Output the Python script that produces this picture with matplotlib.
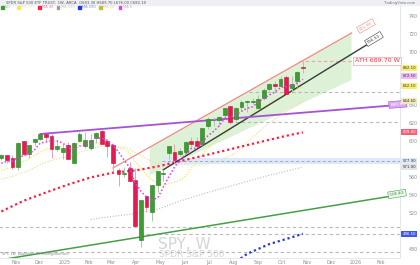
import numpy as np
import matplotlib.pyplot as plt
import matplotlib.dates as mdates
import pandas as pd

plt.rcParams['font.family'] = ['DejaVu Sans']

# weekly SPY candles, week of 2024-10-14 .. week of 2025-10-27
weeks = pd.date_range('2024-10-14', periods=55, freq='7D')
opens = [581.2, 584.1, 581.2, 571.3, 599.8, 586.2, 599.5, 603.0, 607.7, 606.0,
         590.9, 587.9, 596.3, 575.8, 600.7, 594.8, 592.7, 604.0, 610.9, 599.9,
         596.2, 567.6, 563.0, 570.0, 556.6, 489.2, 538.3, 521.1, 551.0, 563.3,
         586.7, 588.1, 586.0, 587.8, 600.1, 600.6, 597.4, 617.4, 623.4, 623.2,
         628.8, 638.9, 625.0, 638.5, 643.3, 643.4, 637.5, 648.6, 657.9, 664.0,
         662.0, 671.9, 659.2, 667.5, 683.3]
highs = [586.1, 585.0, 584.2, 599.0, 600.2, 596.2, 603.4, 608.4, 607.9, 607.8,
         601.3, 596.6, 599.4, 599.4, 610.8, 610.0, 608.3, 610.1, 613.2, 603.0,
         597.3, 569.5, 570.9, 577.0, 570.5, 534.0, 539.3, 551.0, 567.0, 567.8,
         594.5, 596.5, 592.0, 600.0, 605.1, 605.0, 615.0, 626.9, 626.9, 628.6,
         637.6, 639.8, 638.1, 646.2, 646.1, 648.0, 652.2, 659.1, 665.4, 667.3,
         672.7, 673.9, 673.2, 678.0, 689.7]
lows = [578.6, 575.2, 568.4, 567.9, 584.5, 581.0, 595.1, 601.4, 600.5, 580.9,
        589.6, 580.2, 580.0, 575.4, 598.9, 592.6, 590.6, 598.0, 596.5, 582.4,
        565.6, 549.7, 559.6, 555.2, 504.1, 481.8, 520.6, 510.3, 543.0, 556.0,
        580.0, 575.6, 583.0, 586.0, 594.0, 593.4, 595.5, 613.5, 617.5, 617.1,
        627.4, 619.3, 622.3, 634.3, 632.9, 641.9, 636.6, 646.4, 655.6, 655.0,
        661.0, 652.8, 653.6, 661.0, 676.0]
closes = [584.6, 579.0, 571.0, 598.2, 585.8, 595.5, 602.6, 607.8, 604.2, 591.2,
          595.0, 592.0, 580.5, 597.6, 608.0, 601.8, 600.8, 609.7, 597.2, 594.2,
          575.9, 562.8, 564.0, 555.7, 505.3, 533.9, 526.4, 550.6, 566.8, 564.3,
          594.2, 579.1, 589.4, 599.1, 597.0, 594.3, 614.9, 625.3, 623.6, 627.6,
          637.1, 621.7, 637.2, 643.4, 645.3, 645.1, 647.2, 657.4, 663.7, 661.8,
          669.2, 653.0, 664.4, 677.3, 682.1]

# moving averages
ma5 = [575.4, 577.5, 577.4, 582.5, 583.7, 585.9, 590.6, 598.0, 599.2, 600.3,
       600.2, 598.0, 592.6, 591.3, 594.6, 596.0, 597.7, 603.6, 603.5, 600.7,
       595.6, 588.0, 578.8, 570.5, 552.7, 544.3, 537.1, 534.4, 536.6, 548.4,
       560.5, 571.0, 578.8, 585.2, 591.8, 591.8, 598.9, 606.1, 611.0, 617.1,
       625.7, 627.1, 629.4, 633.4, 636.9, 638.5, 643.6, 647.7, 651.7, 655.0,
       659.9, 661.0, 662.4, 665.1, 669.2]
ma10 = [567.4, 569.3, 570.2, 573.7, 577.3, 580.7, 584.1, 587.7, 590.9, 592.0,
        593.1, 594.3, 595.3, 595.3, 597.5, 598.1, 597.9, 598.1, 597.4, 597.7,
        595.8, 592.9, 591.2, 587.0, 576.7, 570.0, 562.6, 556.6, 553.6, 550.6,
        552.4, 554.1, 556.6, 560.9, 570.1, 576.2, 585.0, 592.5, 598.1, 604.5,
        608.8, 613.0, 617.8, 622.2, 627.0, 632.1, 635.4, 638.6, 642.6, 646.0,
        649.2, 652.3, 655.1, 658.4, 662.1]
ma20 = [557.7, 559.2, 560.6, 563.4, 565.2, 567.4, 570.6, 573.9, 576.5, 578.5,
        580.3, 581.8, 582.8, 584.5, 587.4, 589.4, 591.0, 592.9, 594.2, 594.9,
        594.5, 593.6, 593.3, 591.2, 587.1, 584.1, 580.3, 577.4, 575.5, 574.2,
        574.1, 573.5, 573.9, 574.0, 573.4, 573.1, 573.8, 574.6, 575.9, 577.6,
        580.6, 583.6, 587.2, 591.6, 598.6, 604.2, 610.2, 615.6, 620.4, 625.3,
        629.0, 632.7, 636.5, 640.3, 644.6]
ma40_wk = [0, 4, 8, 12, 16, 20, 24, 28, 32, 36, 40, 44, 48, 52, 54]
ma40 = [521.4, 533.4, 542.7, 551.6, 559.5, 564.8, 567.3, 571.8, 577.7, 583.5,
        589.5, 595.6, 601.6, 607.4, 609.8]
ma100_wk = [16, 20, 24, 28, 32, 36, 40, 44, 48, 52, 54]
ma100 = [512.5, 516.0, 519.0, 524.0, 533.0, 541.0, 548.0, 555.0, 562.0, 568.0, 571.0]
ma200_wk = [36, 40, 42, 44, 48, 52, 54]
ma200 = [452.0, 459.0, 465.0, 474.0, 485.0, 492.5, 496.5]

# drawings: (date, price) anchors
chan_top = [('2025-03-03', 570.1), ('2025-12-27', 721.0)]
chan_bot = [('2025-05-05', 568.0), ('2026-01-31', 716.5)]
chan_fill = [('2025-04-18', 593.4), ('2025-12-27', 721.0), ('2025-12-27', 668.5), ('2025-04-18', 562.0)]
purple_line = [('2024-12-02', 608.1), ('2026-02-16', 640.0)]
green_line = [('2024-10-12', 467.2), ('2026-02-16', 538.8)]
ath = 689.70
levels = [(655.0, '2025-08-21'), (621.5, '2025-07-27'), (504.1, '2024-10-01'),
          (496.3, '2025-04-06'), (476.2, '2024-10-01')]
band_lo, band_hi, band_start = 574.5, 581.3, '2025-05-03'
price_ticks = [480, 520, 540, 560, 600, 620, 640, 700, 720, 740]

month_ticks = pd.date_range('2024-11-01', '2026-02-01', freq='MS')
month_names = ['Nov', 'Dec', '2025', 'Feb', 'Mar', 'Apr', 'May', 'Jun', 'Jul', 'Aug',
               'Sep', 'Oct', 'Nov', 'Dec', '2026', 'Feb']


def d(s):
    return mdates.date2num(pd.Timestamp(s))


fig = plt.figure(figsize=(4.2, 2.65), dpi=100)
ax = fig.add_axes([0, 7 / 265, 400 / 420, 253 / 265])
base = d('2025-01-01')
ax.set_xlim(base - 80.6, base + 420.7)
ax.set_ylim(469.4, 752.3)

xw = mdates.date2num(weeks)

# channel
ax.fill([d(a) for a, b in chan_fill], [b for a, b in chan_fill], color='#ddf1d6', lw=0, zorder=1)
ax.plot([d(a) for a, b in chan_top], [b for a, b in chan_top], color='#f08a84', lw=0.9, zorder=3)
ax.plot([d(a) for a, b in chan_bot], [b for a, b in chan_bot], color='#3a3a3a', lw=1.0, zorder=3)
ax.plot([d(a) for a, b in purple_line], [b for a, b in purple_line], color='#a652d6', lw=1.3, zorder=3)
ax.plot([d(a) for a, b in green_line], [b for a, b in green_line], color='#43a047', lw=1.1, zorder=3)

# horizontal levels
ax.fill_between([d(band_start), base + 420.7], band_lo, band_hi, color='#dde9fb', lw=0, zorder=1)
ax.hlines((band_lo + band_hi) / 2, d(band_start), base + 420.7, colors='#a0a8b8',
          linestyles=(0, (3, 2.5)), lw=0.7, zorder=2)
for p, start in levels:
    ax.hlines(p, d(start), base + 420.7, colors='#b8b8b8', linestyles=(0, (3, 2.5)), lw=0.8, zorder=2)
ax.hlines(ath, d('2025-10-22'), d('2025-12-30'), colors='#f5a0a8', linestyles=(0, (3, 2.5)), lw=0.8, zorder=2)

# moving averages
ax.plot(xw, ma20, color='#e6df98', lw=0.7, ls=(0, (1.5, 1.5)), zorder=2)
ax.plot(xw, ma10, color='#f0e35a', lw=0.7, ls=(0, (1.5, 1.5)), zorder=2)
ax.plot(xw[ma100_wk], ma100, color='#bdbdbd', lw=0.8, ls=(0, (1, 1.5)), zorder=2)
ax.plot(xw[ma40_wk], ma40, color='#ff1f44', lw=1.6, ls=(0, (1, 1.3)), zorder=2)
ax.plot(xw[ma200_wk], ma200, color='#2038e0', lw=1.6, ls=(0, (1, 1.3)), zorder=2)

# candles
for x, o, h, l, c in zip(xw, opens, highs, lows, closes):
    up = c >= o
    body = '#3e9c33' if up else '#e8194f'
    edge = '#2a7a22' if up else '#c0123e'
    wick = '#a8c8a4' if up else '#eaa3b3'
    ax.vlines(x, l, h, color=wick, lw=0.7, zorder=4)
    ax.bar(x, max(abs(c - o), 0.8), 4.8, bottom=min(o, c), color=body, edgecolor=edge, lw=0.4, zorder=5)

ax.plot(xw, ma5, color='#e23bf0', lw=1.1, ls=(0, (1, 1.4)), zorder=6)

# labels on drawings
ax.text(d('2025-12-31'), ath, 'ATH 689.70 W', fontsize=4.6, color='#f23645', ha='left', va='center', zorder=7,
        bbox=dict(boxstyle='square,pad=0.25', fc='white', ec='#f5a0a8', lw=0.5))
ax.text(d('2026-01-14'), 728.8, '721.06', fontsize=3.2, color='#f08a84', rotation=29.5, ha='center',
        va='center', zorder=7, bbox=dict(boxstyle='square,pad=0.3', fc='white', ec='#f08a84', lw=0.4))
ax.text(d('2026-01-24'), 714.3, '716.51', fontsize=3.2, color='#3a3a3a', rotation=31, ha='center',
        va='center', zorder=7, bbox=dict(boxstyle='square,pad=0.3', fc='white', ec='#3a3a3a', lw=0.4))
ax.text(d('2026-02-23'), 641.2, '640.53', fontsize=3.2, color='white', rotation=4.6, ha='center',
        va='center', zorder=7, clip_on=False,
        bbox=dict(boxstyle='square,pad=0.3', fc='#d9a8ee', ec='#a652d6', lw=0.4))
ax.text(d('2026-02-22'), 541.0, '538.80', fontsize=3.2, color='#43a047', rotation=9.3, ha='center',
        va='center', zorder=7, clip_on=False,
        bbox=dict(boxstyle='square,pad=0.3', fc='#eef8ec', ec='#43a047', lw=0.4))

# watermark
ax.text(0.46, 0.055, 'SPY, W', transform=ax.transAxes, fontsize=11, color='#d4d4d8', ha='center', va='center', zorder=0)
ax.text(0.48, 0.012, 'SPDR S&P 500', transform=ax.transAxes, fontsize=6.5, color='#d4d4d8', ha='center', va='center', zorder=0)

# axes styling
for s in ['top', 'left']:
    ax.spines[s].set_visible(False)
for s in ['right', 'bottom']:
    ax.spines[s].set_color('#e0e3eb')
    ax.spines[s].set_linewidth(0.6)
ax.yaxis.tick_right()
ax.set_yticks(price_ticks)
ax.tick_params(axis='y', length=0, pad=6, labelsize=3.4, labelcolor='#8a8d96')
ax.set_xticks(mdates.date2num(month_ticks))
ax.set_xticklabels(month_names)
ax.tick_params(axis='x', length=0, pad=1.2, labelsize=3.4, labelcolor='#8a8d96')

# price scale tags
tags = [(682.1, '#f7ee7a', '#333333'), (672.5, '#f3b9f7', '#333333'), (662.1, '#f7ee7a', '#333333'),
        (644.6, '#efeab8', '#333333'), (609.8, '#ff5c74', 'white'), (577.9, '#dde9fb', '#333333'),
        (571.0, '#e4e4e4', '#333333'), (496.5, '#4058e8', 'white')]
for p, fc, tc in tags:
    ax.text(1.006, p, f'{p:.2f}', transform=ax.get_yaxis_transform(), fontsize=2.8, color=tc,
            ha='left', va='center', clip_on=False, zorder=8,
            bbox=dict(boxstyle='square,pad=0.25', fc=fc, ec='none'))

# header
fig.patches.append(plt.Rectangle((0, 1 - 5 / 265), 1, 5 / 265, transform=fig.transFigure,
                                 color='#eef0f3', zorder=0))
fig.text(0.014, 1 - 3.2 / 265, 'SPDR S&P 500 ETF TRUST, 1W, ARCA  O683.30 H689.70 L676.00 C682.10',
         fontsize=2.7, color='#555555', va='center')
fig.text(0.99, 1 - 3.2 / 265, 'TradingView.com', fontsize=2.7, color='#777777', ha='right', va='center')
legend = [('Vol', '#3e9c33'), ('MA 10', '#f3e86a'), ('MA 40', '#ff1f44'), ('MA 100', '#9e9e9e'),
          ('MA 200', '#2038e0'), ('MA 20', '#c9b83a'), ('MA 5', '#e23bf0')]
lx = [1, 17, 38, 57, 78, 99, 119]
for (name, col), x0 in zip(legend, lx):
    fig.patches.append(plt.Rectangle((x0 / 420, 1 - 9 / 265), 2.5 / 420, 3 / 265,
                                     transform=fig.transFigure, color=col))
    fig.text((x0 + 4) / 420, 1 - 7.5 / 265, name, fontsize=2.6, color=col, alpha=0.55, va='center')
fig.text(0.005, 9 / 265, 'SPY, 1W  published on TradingView.com', fontsize=2.4, color='#888888', va='bottom')

plt.savefig('out.png', dpi=100)
